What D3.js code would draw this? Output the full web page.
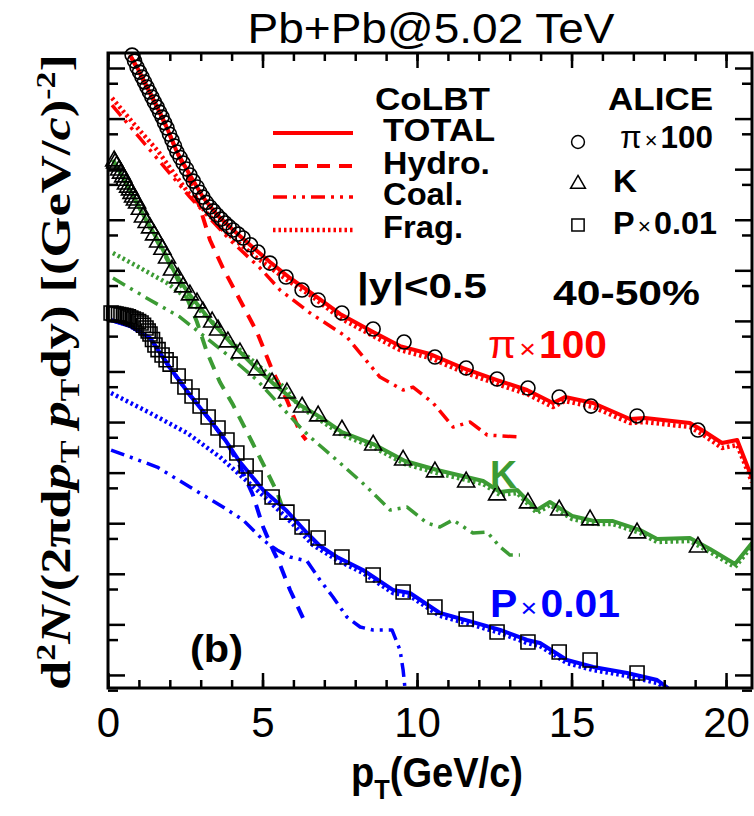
<!DOCTYPE html>
<html>
<head>
<meta charset="utf-8">
<script src="https://cdn.jsdelivr.net/npm/d3@7"></script>
<style>
  body { margin: 0; background: #fff; }
  text { font-family: "Liberation Sans", Arial, sans-serif; }
</style>
</head>
<body>
<div id="chart"></div>
<script>
// ALICE points [pT, value]
const piAlice = [[0.78,1.8e3],[0.86,1.37e3],[0.94,1.04e3],[1.02,830],[1.10,664],[1.18,530],[1.26,421],[1.34,335],[1.42,267],[1.50,212],[1.59,169],[1.67,134],[1.75,107],[1.83,83],[1.91,65],[1.99,49],[2.07,37.7],[2.15,28.7],[2.23,21.8],[2.33,17.0],[2.43,13.2],[2.54,10.1],[2.65,7.66],[2.76,5.8],[2.88,4.44],[2.97,3.5],[3.07,2.81],[3.18,2.2],[3.30,1.79],[3.41,1.5],[3.53,1.24],[3.66,1.03],[3.79,0.861],[3.92,0.73],[4.05,0.627],[4.21,0.52],[4.37,0.435],[4.61,0.32],[4.85,0.230],[5.24,0.139],[5.76,0.0736],[6.28,0.0407],[6.80,0.0259],[7.57,0.0143],[8.58,0.0069],[9.58,0.00382],[10.58,0.00193],[11.59,0.00117],[12.59,7.08e-4],[13.59,4.70e-4],[14.60,3.12e-4],[15.63,2.07e-4],[17.12,1.32e-4],[19.09,6.95e-5]]
const kAlice = [[0.20,14.5],[0.23,13.2],[0.28,11.5],[0.36,9.6],[0.42,8.3],[0.49,7.0],[0.53,6.0],[0.58,5.08],[0.65,4.4],[0.71,3.87],[0.76,3.3],[0.81,2.81],[0.87,2.45],[0.94,2.14],[1.03,1.6],[1.13,1.13],[1.25,0.88],[1.36,0.686],[1.49,0.5],[1.62,0.362],[1.76,0.26],[1.91,0.175],[2.07,0.101],[2.27,0.0705],[2.43,0.0468],[2.65,0.0325],[2.88,0.0226],[3.07,0.0150],[3.37,0.0095],[3.56,0.0066],[3.88,0.00383],[4.27,0.00232],[4.82,0.00107],[5.31,5.92e-4],[5.79,3.75e-4],[6.28,1.98e-4],[6.80,1.32e-4],[7.57,6.95e-5],[8.58,3.51e-5],[9.55,1.77e-5],[10.58,1.03e-5],[11.59,6.52e-6],[12.59,3.61e-6],[13.59,2.51e-6],[14.60,1.82e-6],[15.60,1.16e-6],[17.12,6.4e-7],[19.09,3.38e-7]]
const pAlice = [[0.10,0.0143],[0.18,0.0140],[0.26,0.0137],[0.34,0.0134],[0.42,0.0131],[0.50,0.0128],[0.58,0.0125],[0.66,0.0120],[0.74,0.0114],[0.82,0.0109],[0.91,0.0104],[0.99,0.0097],[1.07,0.00908],[1.15,0.0082],[1.23,0.00723],[1.30,0.0063],[1.36,0.0055],[1.44,0.0043],[1.52,0.00333],[1.62,0.0027],[1.75,0.00211],[1.88,0.0017],[2.01,0.0014],[2.27,8.13e-4],[2.49,4.92e-4],[2.72,3.27e-4],[2.98,2.07e-4],[3.24,1.26e-4],[3.56,7.62e-5],[3.85,4.42e-5],[4.17,2.44e-5],[4.47,1.35e-5],[4.76,7.83e-6],[5.31,3.30e-6],[5.79,1.66e-6],[6.28,8.41e-7],[6.80,5.09e-7],[7.57,2.15e-7],[8.58,9.46e-8],[9.55,4.36e-8],[10.58,2.2e-8],[11.59,1.28e-8],[12.59,7.06e-9],[13.59,4.48e-9],[14.60,2.84e-9],[15.60,1.97e-9],[17.12,1.09e-9]]

// CoLBT curves, pion x100
const piTotal = [[0.71,1.8e3],[0.94,1.04e3],[1.26,421],[1.59,169],[1.91,65],[2.23,21.8],[2.65,7.66],[3.07,2.81],[3.53,1.24],[4.05,0.627],[4.60,0.316],[5.24,0.146],[5.89,0.0705],[6.54,0.0372],[7.51,0.0137],[8.58,0.00603],[9.45,0.00318],[10.42,0.00221],[11.49,0.00117],[12.59,6.78e-4],[13.56,4.30e-4],[14.40,2.38e-4],[14.79,3.12e-4],[15.70,2.38e-4],[16.89,1.15e-4],[17.38,1.20e-4],[18.83,9.57e-5],[19.22,6.97e-5],[19.87,3.85e-5],[20.36,4.42e-5],[20.84,7.8e-6]]
const piHydro = [[0.71,1.8e3],[1.26,421],[1.59,169],[1.91,65],[2.23,21.8],[2.49,10.5],[2.98,1.71],[3.30,0.397],[3.72,0.111],[4.27,0.0259],[4.82,0.00603],[5.34,9.75e-4],[5.79,2.72e-4],[6.21,6.35e-5],[6.41,4.42e-5]]
const piCoal = [[0.13,185],[1.36,23.9],[2.65,2.81],[3.95,0.397],[4.92,0.111],[5.57,0.0407],[6.54,0.0143],[7.73,0.0048],[8.80,7.76e-4],[9.55,4.30e-4],[9.87,4.92e-4],[10.52,2.38e-4],[11.17,7.98e-5],[11.72,1.0e-4],[12.27,5.55e-5],[13.33,5.06e-5]]
const piFrag = [[0.13,255],[0.87,74.6],[1.59,23.9],[2.65,3.08],[3.72,0.627],[4.82,0.175],[5.89,0.0588],[6.54,0.0325],[7.51,0.0114],[8.58,0.00502],[9.45,0.00265],[10.42,0.00185],[11.49,9.75e-4],[12.59,5.65e-4],[13.56,3.58e-4],[14.40,1.98e-4],[14.79,2.61e-4],[15.70,1.98e-4],[16.89,9.57e-5],[17.38,1.0e-4],[18.83,7.98e-5],[19.22,5.8e-5],[19.87,3.07e-5],[20.36,3.52e-5],[20.84,6.5e-6]]

// kaon
const kTotal = [[0.16,15.2],[0.71,3.87],[1.20,1.08],[1.68,0.331],[2.17,0.0883],[2.65,0.0325],[3.30,0.0104],[3.95,0.00383],[4.76,0.00122],[5.40,5.40e-4],[6.21,2.17e-4],[6.86,1.26e-4],[7.57,6.35e-5],[8.58,3.68e-5],[9.61,1.70e-5],[10.65,1.13e-5],[12.14,6.83e-6],[12.69,4.14e-6],[13.24,4.53e-6],[13.88,1.82e-6],[14.30,2.62e-6],[15.02,1.39e-6],[15.76,1.10e-6],[16.34,1.10e-6],[17.22,7.33e-7],[17.77,4.87e-7],[18.83,5.09e-7],[19.48,3.08e-7],[20.29,1.56e-7],[20.84,4.06e-7]]
const kHydro = [[0.16,15.2],[0.71,3.87],[1.36,0.686],[2.01,0.127],[2.49,0.0356],[2.88,0.0095],[3.20,0.00243],[3.62,6.18e-4],[4.05,2.17e-4],[4.43,7.62e-5],[4.76,3.07e-5],[5.15,1.03e-5],[5.47,4.13e-6],[5.73,1.45e-6]]
const kCoal = [[0.16,0.0705],[1.36,0.0259],[2.33,0.0119],[2.98,0.00577],[3.95,0.00193],[4.82,6.78e-4],[5.47,2.49e-4],[6.21,7.98e-5],[6.54,5.06e-5],[7.51,1.55e-5],[8.38,5.19e-6],[9.13,1.82e-6],[9.68,2.09e-6],[10.32,1.01e-6],[10.74,8.41e-7],[11.16,1.16e-6],[11.81,6.4e-7],[12.27,6.7e-7],[12.69,3.38e-7],[13.01,2.35e-7],[13.33,2.35e-7]]
const kFrag = [[0.16,0.22],[0.99,0.116],[1.91,0.0561],[2.56,0.0283],[3.30,0.0104],[4.27,0.00265],[5.15,9.31e-4],[5.73,4.70e-4],[6.21,1.98e-4],[6.86,1.10e-4],[7.57,5.55e-5],[8.58,3.21e-5],[9.61,1.48e-5],[10.65,9.84e-6],[12.14,5.96e-6],[12.69,3.61e-6],[13.24,3.95e-6],[13.88,1.59e-6],[14.30,2.29e-6],[15.02,1.21e-6],[15.76,9.64e-7],[16.34,9.64e-7],[17.22,6.4e-7],[17.77,4.25e-7],[18.83,4.45e-7],[19.48,2.69e-7],[20.29,1.36e-7],[20.84,3.54e-7]]

// proton x0.01
const pTotal = [[0.10,0.0104],[0.71,0.00793],[1.36,0.00459],[2.01,0.00117],[2.65,3.42e-4],[3.30,1.10e-4],[3.79,4.42e-5],[4.27,1.62e-5],[5.02,4.53e-6],[5.79,1.74e-6],[6.44,6.4e-7],[6.86,3.54e-7],[7.41,2.15e-7],[8.25,1.19e-7],[9.22,4.79e-8],[9.77,4.17e-8],[10.74,1.68e-8],[11.81,1.11e-8],[12.69,7.75e-9],[13.56,4.91e-9],[13.98,4.28e-9],[14.85,1.98e-9],[15.70,1.44e-9],[16.80,1.09e-9],[17.77,7.94e-10],[18.12,5.51e-10]]
const pHydro = [[0.10,0.0104],[0.71,0.00793],[1.36,0.00459],[2.01,0.00117],[2.65,3.42e-4],[3.30,1.10e-4],[3.79,4.42e-5],[4.27,1.35e-5],[4.69,3.61e-6],[5.02,8.41e-7],[5.34,2.95e-7],[5.57,1.49e-7],[5.89,4.78e-8],[6.31,1.34e-8]]
const pCoal = [[0.10,2.8e-5],[1.59,1.29e-5],[2.65,5.19e-6],[3.72,2.09e-6],[4.37,1.16e-6],[5.02,4.65e-7],[5.47,2.95e-7],[5.89,2.15e-7],[6.44,1.79e-7],[6.86,7.53e-8],[7.28,3.48e-8],[7.73,1.4e-8],[8.16,8.87e-9],[8.58,7.75e-9],[9.19,7.75e-9],[9.45,3.11e-9],[9.55,1.25e-9],[9.61,5.51e-10]]
const pFrag = [[0.10,3.75e-4],[1.36,1.51e-4],[2.56,6.07e-5],[3.62,2.04e-5],[4.27,8.97e-6],[4.82,4.53e-6],[5.79,1.27e-6],[6.63,3.71e-7],[7.41,1.87e-7],[8.25,1.04e-7],[9.22,4.17e-8],[9.77,3.64e-8],[10.74,1.47e-8],[11.81,9.72e-9],[12.69,6.75e-9],[13.56,4.28e-9],[13.98,3.73e-9],[14.85,1.72e-9],[15.70,1.25e-9],[16.80,9.53e-10],[17.77,6.92e-10],[18.06,5.51e-10]]

const xMajor = [0, 5, 10, 15, 20]
const xMinor = d3.range(0, 21)
const yMajor = [1e-9,1e-8,1e-7,1e-6,1e-5,1e-4,1e-3,1e-2,1e-1,1,10,100,1000]
const yMinor = [5e-10,5e-9,5e-8,5e-7,5e-6,5e-5,5e-4,5e-3,5e-2,0.5,5,50,500]
const legendNames = ["TOTAL", "Hydro.", "Coal.", "Frag."]

const plot = {left: 108, right: 752, top: 53, bottom: 688}
const RED = "#ff0000", GREEN = "#3c9b34", BLUE = "#0000ff"
const styles = {
  total: {dash: null, w: 4},
  hydro: {dash: "13,9", w: 4},
  coal: {dash: "14,6,3,6,3,6", w: 3.5},
  frag: {dash: "2.5,3", w: 4.5}
}

const svg = d3.select("#chart")
  .append("svg")
    .attr("width", 754)
    .attr("height", 816)

const x = d3.scaleLinear().domain([0, 20.84]).range([plot.left, plot.right])
const y = d3.scaleLog().domain([5.52e-10, 1.98e3]).range([plot.bottom, plot.top])

svg.append("clipPath").attr("id", "clip")
  .append("rect")
    .attr("x", plot.left).attr("y", plot.top)
    .attr("width", plot.right - plot.left).attr("height", plot.bottom - plot.top)

const line = d3.line().x(d => x(d[0])).y(d => y(d[1]))

const curves = [
  [piHydro, RED, "hydro"], [piCoal, RED, "coal"], [piFrag, RED, "frag"], [piTotal, RED, "total"],
  [kHydro, GREEN, "hydro"], [kCoal, GREEN, "coal"], [kFrag, GREEN, "frag"], [kTotal, GREEN, "total"],
  [pHydro, BLUE, "hydro"], [pCoal, BLUE, "coal"], [pFrag, BLUE, "frag"], [pTotal, BLUE, "total"]
]

const curveG = svg.append("g").attr("clip-path", "url(#clip)")
curves.forEach(c => {
  curveG.append("path")
    .datum(c[0])
    .attr("fill", "none")
    .attr("stroke", c[1])
    .attr("stroke-width", styles[c[2]].w)
    .attr("stroke-dasharray", styles[c[2]].dash)
    .attr("stroke-linejoin", "round")
    .attr("d", line)
})

// data markers
function markers(data, type, size) {
  svg.append("g")
    .selectAll("path")
    .data(data)
    .enter()
    .append("path")
      .attr("transform", d => `translate(${x(d[0])},${y(d[1])})`)
      .attr("d", d3.symbol().type(type).size(size))
      .attr("fill", "none")
      .attr("stroke", "#000")
      .attr("stroke-width", 1.6)
}
markers(piAlice, d3.symbolCircle, 154)
markers(kAlice, d3.symbolTriangle, 125)
markers(pAlice, d3.symbolSquare, 196)

// axes, ticks pointing inwards
function ticks(axis, tx, ty) {
  const g = svg.append("g").attr("transform", `translate(${tx},${ty})`).call(axis)
  g.select(".domain").remove()
  g.selectAll(".tick line").attr("stroke", "#000").attr("stroke-width", 2.5)
  return g
}
ticks(d3.axisBottom(x).tickValues(xMinor).tickSize(-8).tickFormat(""), 0, plot.bottom)
ticks(d3.axisTop(x).tickValues(xMinor).tickSize(-8).tickFormat(""), 0, plot.top)
ticks(d3.axisTop(x).tickValues(xMajor).tickSize(-15).tickFormat(""), 0, plot.top)
const xg = ticks(d3.axisBottom(x).tickValues(xMajor).tickSize(-15).tickPadding(19).tickFormat(d3.format("d")), 0, plot.bottom)
xg.selectAll("text").attr("font-size", 42).attr("fill", "#000")
  .style("font-family", "'Liberation Sans', Arial, sans-serif")

ticks(d3.axisLeft(y).tickValues(yMajor).tickSize(-17).tickFormat(""), plot.left, 0)
ticks(d3.axisLeft(y).tickValues(yMinor).tickSize(-10).tickFormat(""), plot.left, 0)
ticks(d3.axisRight(y).tickValues(yMajor).tickSize(-17).tickFormat(""), plot.right, 0)
ticks(d3.axisRight(y).tickValues(yMinor).tickSize(-10).tickFormat(""), plot.right, 0)

svg.append("rect")
  .attr("x", plot.left).attr("y", plot.top)
  .attr("width", plot.right - plot.left).attr("height", plot.bottom - plot.top)
  .attr("fill", "none").attr("stroke", "#000").attr("stroke-width", 3)

// title
svg.append("text")
  .attr("x", 431).attr("y", 43)
  .attr("text-anchor", "middle")
  .attr("font-size", 42)
  .attr("textLength", 367).attr("lengthAdjust", "spacingAndGlyphs")
  .text("Pb+Pb@5.02 TeV")

// x label
const xl = svg.append("text")
  .attr("x", 437).attr("y", 787)
  .attr("text-anchor", "middle")
  .attr("font-size", 42).attr("font-weight", "bold")
  .attr("textLength", 172).attr("lengthAdjust", "spacingAndGlyphs")
xl.append("tspan").text("p")
xl.append("tspan").attr("dy", 12).attr("font-size", 28).text("T")
xl.append("tspan").attr("dy", -12).text("(GeV/c)")

// y label (serif, like the original)
const yl = svg.append("text")
  .attr("transform", "translate(70,372) rotate(-90)")
  .attr("text-anchor", "middle")
  .style("font-family", "'Liberation Serif', 'Times New Roman', serif")
  .attr("font-weight", "bold")
  .attr("font-size", 42)
  .attr("textLength", 636).attr("lengthAdjust", "spacingAndGlyphs")
yl.append("tspan").text("d")
yl.append("tspan").attr("dy", -15).attr("font-size", 27).text("2")
yl.append("tspan").attr("dy", 15).attr("font-style", "italic").text("N")
yl.append("tspan").text("/(2πd")
yl.append("tspan").attr("font-style", "italic").text("p")
yl.append("tspan").attr("dy", 9).attr("font-size", 27).text("T")
yl.append("tspan").attr("dy", -9).text(" ")
yl.append("tspan").attr("font-style", "italic").text("p")
yl.append("tspan").attr("dy", 9).attr("font-size", 27).text("T")
yl.append("tspan").attr("dy", -9).text("dy) [(GeV/")
yl.append("tspan").attr("font-style", "italic").text("c")
yl.append("tspan").text(")")
yl.append("tspan").attr("dy", -15).attr("font-size", 27).text("-2")
yl.append("tspan").attr("dy", 15).text("]")

// legend, CoLBT lines
function label(tx, ty, str, len, color, size) {
  return svg.append("text")
    .attr("x", tx).attr("y", ty)
    .attr("font-size", size || 31).attr("font-weight", "bold")
    .attr("fill", color || "#000")
    .attr("textLength", len).attr("lengthAdjust", "spacingAndGlyphs")
    .text(str)
}
label(375, 110, "CoLBT", 115)
const legendKeys = ["total", "hydro", "coal", "frag"]
const legendY = [133, 166, 197, 230]
const legendLen = [112, 107, 80, 80]
legendNames.forEach((name, i) => {
  svg.append("line")
    .attr("x1", 273).attr("x2", 353)
    .attr("y1", legendY[i]).attr("y2", legendY[i])
    .attr("stroke", RED)
    .attr("stroke-width", styles[legendKeys[i]].w)
    .attr("stroke-dasharray", styles[legendKeys[i]].dash)
  label(383, legendY[i] + 8, name, legendLen[i])
})

// legend, ALICE markers
label(608, 110, "ALICE", 105)
const legMarks = [[d3.symbolCircle, 130, 142], [d3.symbolTriangle, 95, 184], [d3.symbolSquare, 150, 225]]
legMarks.forEach(m => {
  svg.append("path")
    .attr("transform", `translate(578,${m[2]})`)
    .attr("d", d3.symbol().type(m[0]).size(m[1]))
    .attr("fill", "none").attr("stroke", "#000").attr("stroke-width", 1.5)
})

function scaled(tx, ty, first, factor, len, color, size, firstBold) {
  const t = svg.append("text")
    .attr("x", tx).attr("y", ty)
    .attr("font-size", size).attr("fill", color)
    .attr("textLength", len).attr("lengthAdjust", "spacingAndGlyphs")
  t.append("tspan").attr("font-weight", firstBold ? "bold" : "normal").text(first)
  t.append("tspan").attr("font-size", size * 0.7).attr("dx", 3).text("×")
  t.append("tspan").attr("font-weight", "bold").attr("dx", 3).text(factor)
  return t
}
scaled(620, 148, "π", "100", 93, "#000", 31, false)
label(613, 192, "K", 24)
scaled(613, 234, "P", "0.01", 104, "#000", 31, true)

// annotations
label(357, 298, "|y|<0.5", 130, "#000", 35)
label(553, 305, "40-50%", 147, "#000", 35)
scaled(488, 358, "π", "100", 119, RED, 38, false)
label(490, 488, "K", 27, GREEN, 38)
scaled(490, 617, "P", "0.01", 130, BLUE, 38, true)
label(190, 662, "(b)", 53, "#000", 38)
</script>
</body>
</html>
